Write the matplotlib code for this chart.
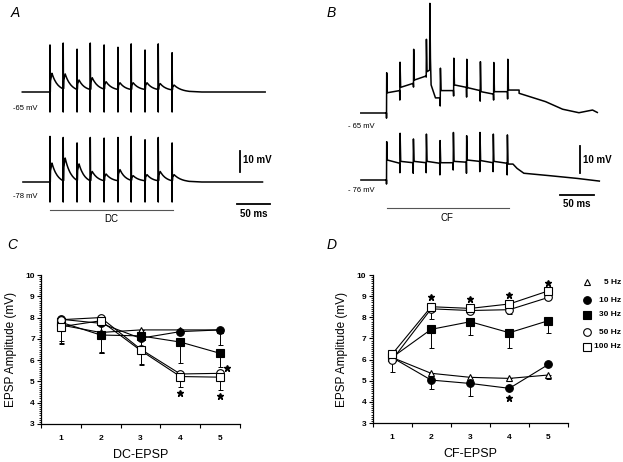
import numpy as np
import matplotlib
matplotlib.use("Agg")
import matplotlib.pyplot as plt
from matplotlib.ticker import MultipleLocator

plt.rcParams['font.family'] = ['Liberation Sans', 'DejaVu Sans']

W, H = 623, 462

# ---------------- data: summary plots ----------------
stim_idx = [1, 2, 3, 4, 5]
freq_labels = ["5 Hz", "10 Hz", "30 Hz", "50 Hz", "100 Hz"]

# Panel C (DC-EPSP), mean amplitude (mV) and lower error (mV)
dc_5hz = [7.65, 7.30, 7.42, 7.42, 7.42]
dc_10hz = [7.92, 7.73, 7.03, 7.34, 7.42]
dc_30hz = [7.78, 7.18, 7.14, 6.85, 6.32]
dc_50hz = [7.90, 8.00, 6.52, 5.35, 5.38]
dc_100hz = [7.57, 7.85, 6.46, 5.23, 5.20]
dc_5hz_err = [0.85, 0.9, 0.0, 0.0, 0.0]
dc_10hz_err = [0.0, 0.0, 0.0, 0.0, 0.7]
dc_30hz_err = [0.9, 0.85, 1.3, 1.0, 0.65]
dc_50hz_err = [0.0, 0.0, 0.0, 0.0, 0.0]
dc_100hz_err = [0.8, 1.5, 0.7, 0.5, 0.6]
dc_star_x = [4.0, 5.0, 5.18]
dc_star_y = [4.44, 4.32, 5.62]

# Panel D (CF-EPSP)
cf_5hz = [6.10, 5.35, 5.16, 5.11, 5.27]
cf_10hz = [6.10, 5.03, 4.87, 4.64, 5.77]
cf_30hz = [6.10, 7.43, 7.79, 7.27, 7.84]
cf_50hz = [5.98, 8.40, 8.32, 8.36, 8.94]
cf_100hz = [6.25, 8.50, 8.42, 8.63, 9.25]
cf_5hz_err = [0.0, 0.0, 0.0, 0.0, 0.17]
cf_10hz_err = [0.0, 0.40, 0.60, 0.0, 0.0]
cf_30hz_err = [0.0, 0.88, 0.65, 0.74, 0.57]
cf_50hz_err = [0.55, 0.50, 0.0, 0.2, 0.0]
cf_100hz_err = [0.0, 0.0, 0.0, 0.0, 0.0]
cf_star_x = [2.0, 3.0, 4.0, 5.0, 4.0]
cf_star_y = [8.94, 8.85, 9.05, 9.64, 4.16]

# ---------------- data: recordings (ms, mV relative to resting level) ----------------
# Panel A, -65 mV trace
a1_spike_t = [0, 20, 41, 61, 82, 103, 123, 144, 164, 185]
a1_spike_top = [22.4, 23.3, 20.4, 23.3, 22.4, 21.3, 22.9, 20.0, 22.9, 18.7]
a1_spike_bot = [-9.4, -9.4, -9.4, -9.4, -9.4, -9.4, -9.4, -9.4, -9.4, -9.4]
a1_epsp_peak = [8.9, 8.6, 5.7, 6.8, 4.9, 4.4, 4.4, 4.4, 4.0, 3.3]
a1_trough = [0.0, 1.5, 1.2, 1.2, 1.4, 1.2, 1.2, 1.2, 1.2, 1.0]
a1_span = [-42, 326]

# Panel A, -78 mV trace
a2_spike_t = [0, 20, 41, 61, 82, 103, 123, 144, 164, 185]
a2_spike_top = [21.7, 21.2, 18.6, 21.2, 20.9, 21.2, 21.7, 20.1, 21.2, 18.6]
a2_spike_bot = [-9.4, -9.4, -9.4, -9.4, -9.4, -9.4, -9.4, -9.4, -9.4, -9.4]
a2_epsp_peak = [9.0, 11.4, 8.6, 5.0, 3.8, 5.9, 3.0, 3.5, 5.0, 3.5]
a2_trough = [0.0, 0.6, 0.8, 0.6, 0.6, 0.6, 0.8, 0.6, 0.6, 0.6]
a2_span = [-41, 322]

# Panel B, -65 mV trace (complex spike after 4th CF response)
b1_spike_t = [0, 19.6, 39.7, 58.4, 79.0, 98.7, 117.8, 137.8, 157.5, 178.1]
b1_spike_top = [14.9, 18.8, 23.6, 27.3, 16.6, 20.3, 19.9, 19.0, 18.7, 19.9]
b1_spike_bot = [-1.9, 4.8, 9.6, 13.3, 2.6, 6.3, 5.9, 4.4, 4.8, 5.2]
b1_plat_start = [7.5, 9.5, 12.2, 15.3, 8.3, 10.4, 9.4, 7.9, 7.9, 8.5]
b1_plat_end = [8.3, 11.0, 13.7, 15.9, 8.3, 9.5, 8.3, 7.0, 7.9, 8.5]
b1_na_spike = [63.8, 40.6, 10.4, 5.6, 72.0]  # time, peak, fall level, settle level, settle time
b1_tail_t = [195, 234, 259, 283, 303, 310]
b1_tail_v = [7.3, 4.2, 1.4, 0.1, 1.1, 0.2]
b1_start = -37.8

# Panel B, -76 mV trace
b2_spike_t = [0, 19.7, 39.3, 58.4, 78.5, 98.1, 117.6, 137.2, 156.8, 177.5]
b2_spike_top = [14.2, 17.3, 15.2, 17.0, 14.6, 17.6, 16.4, 17.6, 17.0, 16.7]
b2_spike_bot = [-1.5, 2.7, 2.5, 2.7, 1.9, 3.7, 2.5, 3.1, 3.1, 1.9]
b2_plat_start = [7.4, 6.9, 6.9, 6.9, 6.4, 6.9, 7.4, 7.2, 6.9, 5.9]
b2_plat_end = [6.2, 6.4, 6.4, 6.2, 6.4, 6.6, 6.9, 6.4, 6.2, 5.9]
b2_tail_t = [186, 192, 202, 240, 280, 313]
b2_tail_v = [5.9, 4.3, 2.5, 1.6, 0.6, -0.4]
b2_start = -37.6


# ---------------- helpers ----------------
def add_ax(fig, x0, y0, x1, y1):
    return fig.add_axes([x0 / W, 1 - y1 / H, (x1 - x0) / W, (y1 - y0) / H])


def dc_trace(spike_t, top, bot, peak, trough, span):
    ts, vs = [span[0], spike_t[0]], [0.0, trough[0]]
    n = len(spike_t)
    k = 2.0
    for i in range(n):
        t = spike_t[i]
        nxt = spike_t[i + 1] if i + 1 < n else t + 26
        nxt_v = trough[i + 1] if i + 1 < n else 0.3
        ts += [t, t, t + 0.4, t + 0.8, t + 3.0]
        vs += [bot[i], top[i], trough[i], trough[i] + 0.6 * (peak[i] - trough[i]), peak[i]]
        seg = np.linspace(0, 1, 14)[1:]
        w = (np.exp(-k * seg) - np.exp(-k)) / (1 - np.exp(-k))
        ts += list(t + 3.0 + seg * (nxt - t - 3.0))
        vs += list(nxt_v + (peak[i] - nxt_v) * w)
    ts += [spike_t[-1] + 45, span[1]]
    vs += [0.0, 0.0]
    return np.array(ts), np.array(vs)


def cf_trace(start, spike_t, top, bot, p0, p1, tail_t, tail_v, na=None):
    ts, vs = [start, spike_t[0]], [0.0, 0.0]
    n = len(spike_t)
    for i in range(n):
        t = spike_t[i]
        ts += [t, t + 0.3, t + 1.2]
        vs += [bot[i], top[i], p0[i]]
        end = spike_t[i + 1] - 0.3 if i + 1 < n else tail_t[0]
        if na is not None and t < na[0] < end:
            ts += [na[0] - 0.4, na[0], na[0] + 0.8, na[0] + 1.8, na[4]]
            vs += [p1[i], na[1], na[1] * 0.5, na[2], na[3]]
            ts += [end]
            vs += [na[3]]
        else:
            ts += [end]
            vs += [p1[i]]
    ts += list(tail_t)
    vs += list(tail_v)
    return np.array(ts), np.array(vs)


fig = plt.figure(figsize=(W / 100, H / 100), dpi=100)
TRACE_LW = 1.1

# ---------------- Panel A ----------------
axA = add_ax(fig, 0, 0, 310, 230)
pxms, pxmv = 0.66, 2.1
axA.set_xlim(-50 / pxms, (310 - 50) / pxms)
axA.set_ylim(-(230 - 92) / pxmv, 92 / pxmv)
axA.axis('off')
offA2 = -(182 - 92) / pxmv
t, v = dc_trace(a1_spike_t, a1_spike_top, a1_spike_bot, a1_epsp_peak, a1_trough, a1_span)
axA.plot(t, v, color='black', lw=TRACE_LW)
t, v = dc_trace(a2_spike_t, a2_spike_top, a2_spike_bot, a2_epsp_peak, a2_trough, a2_span)
axA.plot(t, v + offA2, color='black', lw=TRACE_LW)
bar_y = -(210 - 92) / pxmv
axA.plot([0, 186], [bar_y, bar_y], color='#555555', lw=0.8)
axA.text(93, -(219 - 92) / pxmv, "DC", ha='center', va='center', fontsize=7)
sx = (240 - 50) / pxms
axA.plot([sx, sx], [-(151 - 92) / pxmv, -(151 - 92) / pxmv - 10], color='black', lw=1.3)
axA.text(sx + 3 / pxms, -(160 - 92) / pxmv, "10 mV", ha='left', va='center', fontsize=7, fontweight='bold')
sy = -(204 - 92) / pxmv
x0 = (237 - 50) / pxms
axA.plot([x0, x0 + 50], [sy, sy], color='black', lw=1.3)
axA.text(x0 + 25, -(214 - 92) / pxmv, "50 ms", ha='center', va='center', fontsize=7, fontweight='bold')
axA.text(-(50 - 13) / pxms, -(108 - 92) / pxmv, "-65 mV", ha='left', va='center', fontsize=5.5)
axA.text(-(50 - 13) / pxms, -(197 - 92) / pxmv, "-78 mV", ha='left', va='center', fontsize=5.5)

# ---------------- Panel B ----------------
axB = add_ax(fig, 310, 0, 623, 230)
pxmsB, pxmvB = 0.68, 2.7
t0B = 386.5
axB.set_xlim((310 - t0B) / pxmsB, (623 - t0B) / pxmsB)
axB.set_ylim(-(230 - 113) / pxmvB, 113 / pxmvB)
axB.axis('off')
offB2 = -(180 - 113) / pxmvB
t, v = cf_trace(b1_start, b1_spike_t, b1_spike_top, b1_spike_bot, b1_plat_start, b1_plat_end,
                b1_tail_t, b1_tail_v, na=b1_na_spike)
axB.plot(t, v, color='black', lw=TRACE_LW)
t, v = cf_trace(b2_start, b2_spike_t, b2_spike_top, b2_spike_bot, b2_plat_start, b2_plat_end,
                b2_tail_t, b2_tail_v)
axB.plot(t, v + offB2, color='black', lw=TRACE_LW)
barB = -(208 - 113) / pxmvB
axB.plot([(387 - t0B) / pxmsB, (509 - t0B) / pxmsB], [barB, barB], color='#555555', lw=0.8)
axB.text((447 - t0B) / pxmsB, -(218 - 113) / pxmvB, "CF", ha='center', va='center', fontsize=7)
sxB = (580 - t0B) / pxmsB
axB.plot([sxB, sxB], [-(146 - 113) / pxmvB, -(146 - 113) / pxmvB - 10], color='black', lw=1.3)
axB.text(sxB + 3 / pxmsB, -(160 - 113) / pxmvB, "10 mV", ha='left', va='center', fontsize=7, fontweight='bold')
syB = -(195 - 113) / pxmvB
x0B = (560 - t0B) / pxmsB
axB.plot([x0B, x0B + 50], [syB, syB], color='black', lw=1.3)
axB.text(x0B + 25, -(204 - 113) / pxmvB, "50 ms", ha='center', va='center', fontsize=7, fontweight='bold')
axB.text((348 - t0B) / pxmsB, -(127 - 113) / pxmvB, "- 65 mV", ha='left', va='center', fontsize=5.5)
axB.text((348 - t0B) / pxmsB, -(191 - 113) / pxmvB, "- 76 mV", ha='left', va='center', fontsize=5.5)

# ---------------- summary plots ----------------
styles = [
    dict(marker='^', mfc='white', mec='black', ms=5),
    dict(marker='o', mfc='black', mec='black', ms=5.5),
    dict(marker='s', mfc='black', mec='black', ms=5.5),
    dict(marker='o', mfc='white', mec='black', ms=5.5),
    dict(marker='s', mfc='white', mec='black', ms=5.5),
]


def summary(ax, series, errs, stars, xlabel):
    for s, e, st in zip(series, errs, styles):
        lower = np.array(e)
        ax.errorbar(stim_idx, s, yerr=[lower, np.zeros_like(lower)], fmt='none',
                    ecolor='black', elinewidth=0.7, capsize=1.8, capthick=0.7, zorder=2)
        ax.plot(stim_idx, s, color='black', lw=0.8, zorder=3, mew=0.8, **st)
    ax.plot(stars[0], stars[1], linestyle='none', marker='*', color='black', ms=5, zorder=4)
    ax.set_xlim(0.5, 5.5)
    ax.set_ylim(3, 10)
    ax.set_xticks(np.arange(0.5, 6.0, 1.0))
    ax.set_xticklabels([])
    ax.set_xticks(stim_idx, minor=True)
    ax.set_xticklabels([str(i) for i in stim_idx], minor=True)
    ax.tick_params(axis='x', which='major', length=3, width=0.8, direction='out')
    ax.tick_params(axis='x', which='minor', length=0, pad=8, labelsize=6)
    ax.set_yticks(range(3, 11))
    ax.yaxis.set_minor_locator(MultipleLocator(0.1))
    ax.tick_params(axis='y', which='major', length=3, width=0.8, pad=1.5, labelsize=6)
    ax.tick_params(axis='y', which='minor', length=1.5, width=0.6)
    for lab in ax.get_xticklabels(minor=True) + ax.get_yticklabels():
        lab.set_fontweight('bold')
    for sp in ['top', 'right']:
        ax.spines[sp].set_visible(False)
    for sp in ['left', 'bottom']:
        ax.spines[sp].set_linewidth(0.9)
    ax.set_xlabel(xlabel, fontsize=9, labelpad=5)
    ax.set_ylabel("EPSP Amplitude (mV)", fontsize=8.5, labelpad=6)


axC = add_ax(fig, 41, 275, 240, 424)
summary(axC, [dc_5hz, dc_10hz, dc_30hz, dc_50hz, dc_100hz],
        [dc_5hz_err, dc_10hz_err, dc_30hz_err, dc_50hz_err, dc_100hz_err],
        (dc_star_x, dc_star_y), "DC-EPSP")

axD = add_ax(fig, 372.5, 275, 568, 423)
summary(axD, [cf_5hz, cf_10hz, cf_30hz, cf_50hz, cf_100hz],
        [cf_5hz_err, cf_10hz_err, cf_30hz_err, cf_50hz_err, cf_100hz_err],
        (cf_star_x, cf_star_y), "CF-EPSP")

leg_y = [282, 300, 315, 332, 347]
for yy, lab, st in zip(leg_y, freq_labels, styles):
    fig.lines.append(plt.Line2D([587 / W], [1 - yy / H], transform=fig.transFigure,
                                linestyle='none', mew=0.8, **st))
    fig.text(621 / W, 1 - yy / H, lab, ha='right', va='center', fontsize=6, fontweight='bold')

for x, y, s in [(15, 13, "A"), (331, 13, "B"), (12, 245, "C"), (332, 245, "D")]:
    fig.text(x / W, 1 - y / H, s, ha='center', va='center', fontsize=10, style='italic')

fig.savefig("out.png", dpi=100)
